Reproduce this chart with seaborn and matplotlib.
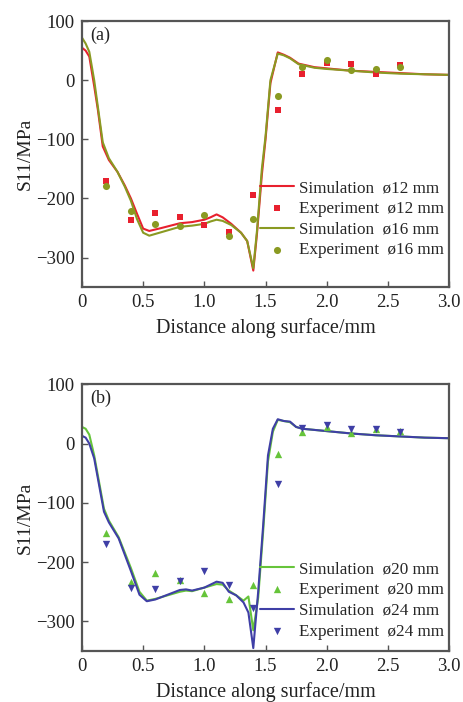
import numpy as np
import pandas as pd
import matplotlib
matplotlib.use("Agg")
import matplotlib.pyplot as plt
import seaborn as sns

# ---------------- data ----------------
sim_x_a = [0, 0.03, 0.06, 0.1, 0.13, 0.17, 0.22, 0.29, 0.35, 0.4, 0.45, 0.5, 0.55,
           0.65, 0.8, 0.9, 1.0, 1.05, 1.1, 1.15, 1.22, 1.3, 1.35, 1.4, 1.43, 1.47,
           1.5, 1.54, 1.6, 1.65, 1.7, 1.77, 1.9, 2.0, 2.2, 2.4, 2.6, 2.8, 3.0]
sim12 = [55, 50, 40, -10, -50, -112, -135, -155, -178, -200, -226, -251, -255,
         -250, -242, -240, -236, -232, -227, -232, -243, -258, -272, -322, -260, -160,
         -100, -5, 47, 43, 38, 28, 22, 20, 16, 14, 12, 10, 9]
sim16 = [72, 62, 48, 0, -45, -105, -132, -155, -180, -204, -235, -258, -263,
         -257, -248, -246, -243, -239, -236, -238, -245, -258, -272, -318, -255, -150,
         -95, 0, 45, 42, 37, 27, 21, 19, 16, 13, 11, 10, 9]

sim_x_b = [0, 0.03, 0.06, 0.1, 0.14, 0.18, 0.22, 0.3, 0.4, 0.47, 0.53, 0.6, 0.7,
           0.8, 0.85, 0.9, 1.0, 1.05, 1.1, 1.15, 1.2, 1.26, 1.32, 1.36, 1.4, 1.44,
           1.48, 1.52, 1.56, 1.6, 1.65, 1.7, 1.75, 1.8, 2.0, 2.2, 2.4, 2.6, 2.8, 3.0]
sim20 = [28, 25, 15, -20, -65, -110, -130, -158, -210, -250, -265, -262, -256,
         -250, -248, -249, -243, -240, -237, -238, -248, -256, -265, -258, -315, -260,
         -150, -30, 20, 40, 38, 36, 28, 25, 21, 17, 14, 12, 10, 9]
sim24 = [13, 10, 0, -25, -70, -115, -133, -160, -215, -255, -266, -263, -255,
         -247, -246, -248, -243, -238, -233, -235, -250, -256, -268, -285, -345, -250,
         -140, -20, 25, 41, 38, 37, 28, 25, 21, 17, 14, 12, 10, 9]

exp_x = [0.2, 0.4, 0.6, 0.8, 1.0, 1.2, 1.4, 1.6, 1.8, 2.0, 2.2, 2.4, 2.6]
exp12 = [-171, -236, -225, -231, -245, -257, -195, -51, 11, 29, 27, 11, 25]
exp16 = [-179, -222, -244, -247, -228, -264, -235, -26, 23, 34, 17, 19, 22]
exp20 = [-151, -233, -218, -231, -252, -263, -238, -18, 20, 28, 17, 24, 22]
exp24 = [-169, -244, -246, -232, -215, -239, -277, -69, 26, 32, 25, 25, 20]

x_ticks = [0, 0.5, 1.0, 1.5, 2.0, 2.5, 3.0]
x_ticklabels = ["0", "0.5", "1.0", "1.5", "2.0", "2.5", "3.0"]
y_ticks = [-300, -200, -100, 0, 100]
y_ticklabels = ["\u2212300", "\u2212200", "\u2212100", "0", "100"]

# ---------------- style ----------------
sns.set_theme(style="ticks")
plt.rcParams["font.family"] = ["Liberation Serif", "DejaVu Serif"]

RED = "#e8202e"
OLIVE = "#8a9a22"
LGREEN = "#66c43a"
BLUE = "#3f3fa6"
SPINE = "#555555"

fig = plt.figure(figsize=(4.63, 7.02), dpi=100)
ax1 = fig.add_axes([0.177, 0.591, 0.793, 0.379])
ax2 = fig.add_axes([0.177, 0.0726, 0.793, 0.380])


def style_axis(ax, label):
    ax.set_xlim(0, 3.0)
    ax.set_ylim(-350, 100)
    ax.set_xticks(x_ticks)
    ax.set_xticklabels(x_ticklabels)
    ax.set_yticks(y_ticks)
    ax.set_yticklabels(y_ticklabels)
    ax.tick_params(direction="in", length=4, width=1.0, color=SPINE,
                   labelsize=13.5, pad=5, labelcolor="#222222")
    for s in ax.spines.values():
        s.set_visible(True)
        s.set_color(SPINE)
        s.set_linewidth(1.6)
    ax.set_ylabel("S11/MPa", fontsize=14, color="#222222", labelpad=2)
    ax.set_xlabel("Distance along surface/mm", fontsize=14.5, color="#222222", labelpad=5)
    ax.text(0.022, 0.98, label, transform=ax.transAxes, fontsize=13,
            va="top", ha="left", color="#222222")


def sim(ax, x, y, color, lbl):
    df = pd.DataFrame({"x": x, "y": y})
    sns.lineplot(data=df, x="x", y="y", ax=ax, color=color, lw=1.5,
                 sort=False, estimator=None, label=lbl)


def exp(ax, x, y, color, marker, size, lbl):
    df = pd.DataFrame({"x": x, "y": y})
    sns.scatterplot(data=df, x="x", y="y", ax=ax, color=color, marker=marker,
                    s=size, linewidth=0, label=lbl, zorder=3)


# panel (a)
sim(ax1, sim_x_a, sim12, RED, "Simulation  \u00f812 mm")
exp(ax1, exp_x, exp12, RED, "s", 24, "Experiment  \u00f812 mm")
sim(ax1, sim_x_a, sim16, OLIVE, "Simulation  \u00f816 mm")
exp(ax1, exp_x, exp16, OLIVE, "o", 26, "Experiment  \u00f816 mm")
style_axis(ax1, "(a)")

# panel (b)
sim(ax2, sim_x_b, sim20, LGREEN, "Simulation  \u00f820 mm")
exp(ax2, exp_x, exp20, LGREEN, "^", 28, "Experiment  \u00f820 mm")
sim(ax2, sim_x_b, sim24, BLUE, "Simulation  \u00f824 mm")
exp(ax2, exp_x, exp24, BLUE, "v", 28, "Experiment  \u00f824 mm")
style_axis(ax2, "(b)")

for ax, yanc in ((ax1, 0.255), (ax2, 0.19)):
    ax.legend(loc="center right", bbox_to_anchor=(1.02, yanc), frameon=False,
              fontsize=12.3, handlelength=2.0, handletextpad=0.3,
              labelspacing=0.28, borderpad=0.2, markerscale=1.0)

fig.savefig("out.png", dpi=100)
